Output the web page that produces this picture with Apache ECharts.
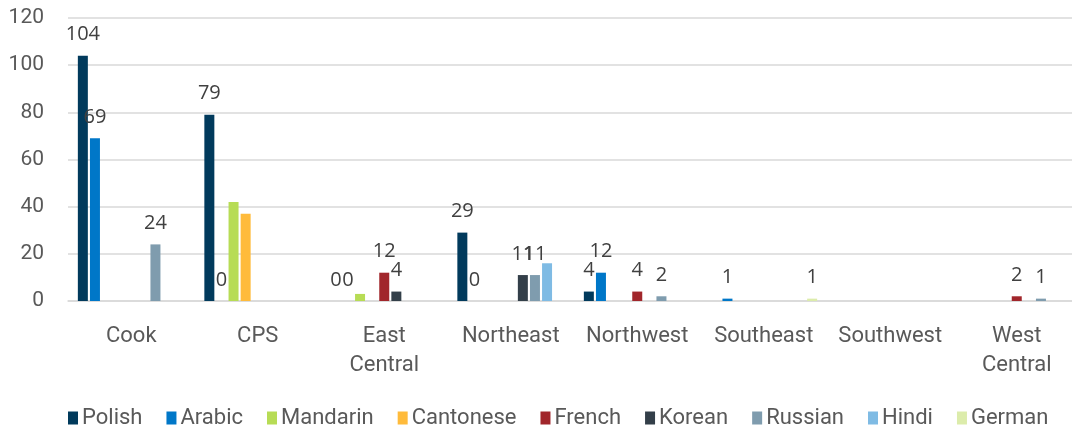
<!DOCTYPE html>
<html>
<head>
<meta charset="utf-8">
<title>Languages by region</title>
<script src="https://cdn.jsdelivr.net/npm/echarts@6.0.0/dist/echarts.min.js"></script>
<style>
  html, body { margin: 0; padding: 0; background: #fff; }
  #chart { width: 1072px; height: 429px; }
</style>
</head>
<body>
<div id="chart"></div>
<script>
  // categories on the x axis
  var regions = ['Cook', 'CPS', 'East\nCentral', 'Northeast', 'Northwest', 'Southeast', 'Southwest', 'West\nCentral'];

  // one array per language, null = no bar
  var polish    = [104, 79, 0, 29, 4, null, null, null];
  var arabic    = [69, 0, 0, 0, 12, 1, null, null];
  var mandarin  = [null, 42, 3, null, null, null, null, null];
  var cantonese = [null, 37, null, null, null, null, null, null];
  var french    = [null, null, 12, null, 4, null, null, 2];
  var korean    = [null, null, 4, 11, null, null, null, null];
  var russian   = [24, null, null, 11, 2, null, null, 1];
  var hindi     = [null, null, null, 16, null, null, null, null];
  var german    = [null, null, null, null, null, 1, null, null];

  var yTicks = [0, 20, 40, 60, 80, 100, 120];

  var chart = echarts.init(document.getElementById('chart'));

  function bar(name, data, color, showLabel) {
    return {
      name: name,
      type: 'bar',
      data: data,
      barWidth: 10,
      barGap: '21%',
      itemStyle: { color: color },
      label: {
        show: showLabel,
        position: 'top',
        distance: 11,
        fontFamily: 'Open Sans',
        fontSize: 20,
        color: '#404040'
      }
    };
  }

  chart.setOption({
    animation: false,
    // plot area runs past the right edge, like the cropped original
    grid: { left: 68, width: 1012, top: 18, bottom: 128, outerBoundsMode: 'none' },
    legend: {
      left: 63,
      top: 402,
      icon: 'rect',
      itemWidth: 10,
      itemHeight: 13,
      itemGap: 24,
      textStyle: { fontFamily: 'Roboto', fontSize: 22, color: '#595959', padding: [0, 0, 0, -1] }
    },
    xAxis: {
      type: 'category',
      data: regions,
      axisTick: { show: false },
      axisLine: { lineStyle: { color: '#d9d9d9', width: 1.5 } },
      axisLabel: {
        interval: 0,
        margin: 21,
        fontFamily: 'Roboto',
        fontSize: 22,
        lineHeight: 29,
        color: '#595959'
      }
    },
    yAxis: {
      type: 'value',
      min: yTicks[0],
      max: yTicks[yTicks.length - 1],
      interval: 20,
      axisLine: { show: false },
      axisTick: { show: false },
      splitLine: { lineStyle: { color: '#d9d9d9', width: 1.5 } },
      axisLabel: {
        margin: 24,
        fontFamily: 'Roboto',
        fontSize: 21,
        color: '#595959'
      }
    },
    series: [
      bar('Polish', polish, '#013a5c', true),
      bar('Arabic', arabic, '#0077c8', true),
      bar('Mandarin', mandarin, '#b7dc55', false),
      bar('Cantonese', cantonese, '#ffbb3b', false),
      bar('French', french, '#a1262b', true),
      bar('Korean', korean, '#333f49', true),
      bar('Russian', russian, '#7f9cae', true),
      bar('Hindi', hindi, '#7fbbe4', false),
      bar('German', german, '#dcecab', true)
    ]
  });
</script>
</body>
</html>
